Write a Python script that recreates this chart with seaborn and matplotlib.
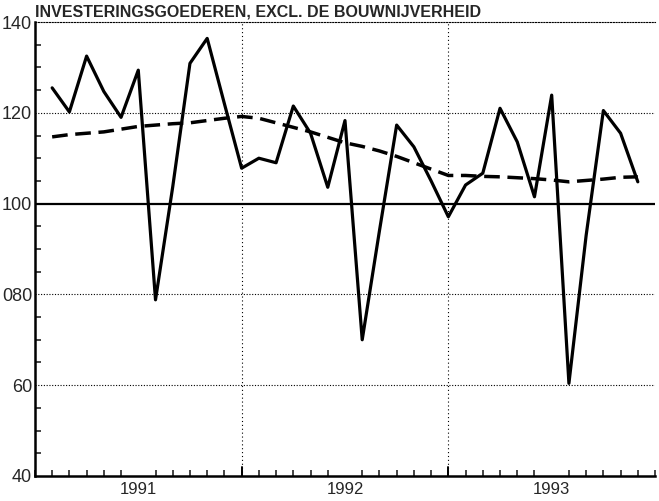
import pandas as pd
import seaborn as sns
import matplotlib.pyplot as plt
from matplotlib.ticker import FixedLocator, MultipleLocator

# Maandindex (1 = jan 1991 ... 35)
maand = list(range(1, 36))

waarde = [125.5, 120.2, 132.5, 124.7, 119.0, 129.4, 78.8, 103.7, 130.9, 136.4, 122.0, 107.8,
          110.0, 109.0, 121.5, 115.5, 103.6, 118.3, 70.0, 94.0, 117.3, 112.5, 105.0, 97.1,
          104.1, 106.7, 121.0, 113.6, 101.5, 123.9, 60.4, 93.0, 120.5, 115.5, 104.8]

# Trend (gestippelde lijn)
trend = [114.7, 115.2, 115.5, 115.8, 116.4, 117.0, 117.3, 117.6, 117.8, 118.3, 118.8, 119.2,
         118.8, 117.8, 116.8, 115.8, 114.6, 113.4, 112.6, 111.6, 110.4, 109.0, 107.6, 106.2,
         106.2, 106.0, 105.9, 105.7, 105.5, 105.2, 104.8, 105.1, 105.4, 105.8, 105.9]

jaren = ['1991', '1992', '1993']
y_ticks = [40, 60, 80, 100, 120, 140]
y_labels = ['40', '60', '080', '100', '120', '140']

df = pd.DataFrame({'maand': maand, 'waarde': waarde, 'trend': trend})

sns.set_style('white')
plt.rcParams['font.family'] = ['Liberation Sans', 'DejaVu Sans']

fig = plt.figure(figsize=(6.59, 5.01), dpi=100)
ax = fig.add_axes([0.053, 0.05, 0.941, 0.906])

sns.lineplot(data=df, x='maand', y='trend', ax=ax, color='black', lw=2.5,
             linestyle=(0, (4.5, 2.2)))
sns.lineplot(data=df, x='maand', y='waarde', ax=ax, color='black', lw=2.3)

ax.axhline(100, color='black', lw=1.6, zorder=1)
for y in [60, 80, 120]:
    ax.axhline(y, color='black', lw=0.8, linestyle=(0, (1, 1.5)), zorder=0)
for x in [12, 24]:
    ax.axvline(x, color='black', lw=0.8, linestyle=(0, (1, 2.5)), zorder=0)

ax.set_xlim(0, 36)
ax.set_ylim(40, 140)

ax.yaxis.set_major_locator(FixedLocator(y_ticks))
ax.set_yticklabels(y_labels)
ax.yaxis.set_minor_locator(MultipleLocator(5))

ax.xaxis.set_minor_locator(MultipleLocator(1))
ax.set_xticks([6, 18, 30], minor=False)
ax.set_xticklabels(jaren)
ax.tick_params(axis='x', which='major', length=0, pad=4, labelsize=12)
ax.tick_params(axis='x', which='minor', direction='in', length=4, width=1.2, bottom=True)
ax.tick_params(axis='y', which='major', direction='in', length=0, pad=2, labelsize=13)
ax.tick_params(axis='y', which='minor', direction='in', length=4, width=1.2, left=True)
for x in [12, 24]:
    ax.plot([x, x], [40, 42], color='black', lw=1.4, clip_on=False)

ax.set_xlabel('')
ax.set_ylabel('')

for side in ['left', 'bottom']:
    ax.spines[side].set_linewidth(1.8)
    ax.spines[side].set_color('black')
ax.spines['right'].set_visible(False)
ax.spines['top'].set_linestyle((0, (1, 1.5)))
ax.spines['top'].set_linewidth(0.8)
ax.spines['top'].set_color('black')

fig.text(0.053, 0.962, 'INVESTERINGSGOEDEREN, EXCL. DE BOUWNIJVERHEID',
         fontsize=11.5, fontweight='bold', ha='left', va='bottom')

plt.savefig('out.png', dpi=100)
plt.close()
